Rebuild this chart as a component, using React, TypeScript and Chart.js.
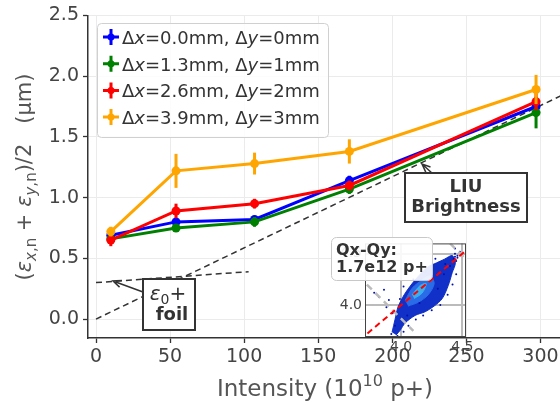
import React, { useEffect, useRef } from 'react';
import { Chart, registerables } from 'chart.js';
Chart.register(...registerables);

// ---------- data ----------
const intensity = [10, 54, 107, 171, 297];
const blueY = [0.69, 0.80, 0.82, 1.14, 1.75];
const blueErr = [0.03, 0.03, 0.03, 0.04, 0.04];
const greenY = [0.66, 0.75, 0.80, 1.07, 1.70];
const greenErr = [0.03, 0.03, 0.04, 0.04, 0.13];
const redY = [0.65, 0.89, 0.95, 1.10, 1.79];
const redErr = [0.05, 0.06, 0.04, 0.04, 0.07];
const orangeY = [0.72, 1.22, 1.28, 1.38, 1.89];
const orangeErr = [0.04, 0.14, 0.09, 0.10, 0.12];
const dxLabels = ['0.0', '1.3', '2.6', '3.9'];
const dyLabels = ['0', '1', '2', '3'];
const seriesColors = ['#0000ff', '#008000', '#ff0000', '#ffa500'];

const liuX = [0, 320];
const liuY = [0, 1.875];
const foilX = [0, 103];
const foilY = [0.30, 0.39];

const xTicks = [0, 50, 100, 150, 200, 250, 300];
const yTicks = [0, 0.5, 1.0, 1.5, 2.0, 2.5];

// inset (Qx-Qy) data
const insetTicks = [4.0, 4.5];
const cloudOuterX = [3.926, 3.951, 3.975, 4.025, 4.090, 4.156, 4.221, 4.287, 4.352, 4.418, 4.443, 4.418, 4.385, 4.336, 4.270, 4.197, 4.115, 4.033, 3.992, 3.959];
const cloudOuterY = [3.736, 3.864, 3.982, 4.100, 4.209, 4.300, 4.373, 4.409, 4.445, 4.482, 4.409, 4.318, 4.191, 4.064, 3.991, 3.936, 3.900, 3.827, 3.755, 3.709];
const cloudMidX = [4.033, 4.090, 4.172, 4.238, 4.270, 4.221, 4.139, 4.057];
const cloudMidY = [4.045, 4.164, 4.245, 4.282, 4.209, 4.100, 4.027, 3.991];
const cloudCoreX = [4.090, 4.156, 4.205, 4.172, 4.107];
const cloudCoreY = [4.100, 4.191, 4.209, 4.118, 4.064];
const sparseX = [3.78, 3.82, 3.86, 3.90, 3.88, 3.93, 3.95, 3.92, 3.97, 4.02, 4.06, 4.12, 4.18, 4.25, 4.32, 4.38, 4.42, 4.45, 4.40, 4.46, 4.48, 4.44, 4.20, 4.10, 4.02, 4.30, 4.35, 4.05, 4.15, 3.99, 4.28, 4.36, 4.43, 4.44, 4.45, 4.46, 4.44];
const sparseY = [4.12, 4.08, 4.15, 4.05, 3.98, 3.92, 3.80, 3.72, 3.70, 3.74, 3.80, 3.86, 3.90, 3.95, 4.00, 4.10, 4.20, 4.30, 4.38, 4.48, 4.52, 4.55, 4.32, 4.25, 4.18, 4.16, 4.30, 3.90, 4.02, 4.06, 4.45, 4.40, 4.45, 4.47, 4.43, 4.46, 4.50];
const diagX = [3.6, 4.7];
const diagY = [3.6, 4.7];
const anti1X = [3.72, 4.10];
const anti1Y = [4.20, 3.75];
const anti2X = [4.40, 4.56];
const anti2Y = [4.60, 4.41];

// ---------- helpers ----------
type Seg = { t: string; size: number; italic?: boolean; bold?: boolean; dy?: number };
const FAM = '"DejaVu Sans"';
const fontOf = (s: Seg) => `${s.italic ? 'italic ' : ''}${s.bold ? 'bold ' : ''}${s.size}px ${FAM}`;
function richWidth(ctx: CanvasRenderingContext2D, segs: Seg[]) {
  let w = 0;
  for (const s of segs) { ctx.font = fontOf(s); w += ctx.measureText(s.t).width; }
  return w;
}
function drawRich(ctx: CanvasRenderingContext2D, segs: Seg[], x: number, y: number, align: 'left' | 'center', color: string) {
  const w = richWidth(ctx, segs);
  let cx = align === 'center' ? x - w / 2 : x;
  ctx.save();
  ctx.fillStyle = color;
  ctx.textAlign = 'left';
  ctx.textBaseline = 'alphabetic';
  for (const s of segs) {
    ctx.font = fontOf(s);
    ctx.fillText(s.t, cx, y + (s.dy || 0));
    cx += ctx.measureText(s.t).width;
  }
  ctx.restore();
}
function arrow(ctx: CanvasRenderingContext2D, x1: number, y1: number, x2: number, y2: number) {
  ctx.save();
  ctx.strokeStyle = '#333';
  ctx.lineWidth = 1.5;
  ctx.beginPath();
  ctx.moveTo(x1, y1);
  ctx.lineTo(x2, y2);
  const a = Math.atan2(y1 - y2, x1 - x2);
  const L = 9;
  ctx.moveTo(x2 + L * Math.cos(a + 0.4), y2 + L * Math.sin(a + 0.4));
  ctx.lineTo(x2, y2);
  ctx.lineTo(x2 + L * Math.cos(a - 0.4), y2 + L * Math.sin(a - 0.4));
  ctx.stroke();
  ctx.restore();
}
function roundRect(ctx: CanvasRenderingContext2D, x: number, y: number, w: number, h: number, r: number) {
  ctx.beginPath();
  ctx.moveTo(x + r, y);
  ctx.lineTo(x + w - r, y);
  ctx.arcTo(x + w, y, x + w, y + r, r);
  ctx.lineTo(x + w, y + h - r);
  ctx.arcTo(x + w, y + h, x + w - r, y + h, r);
  ctx.lineTo(x + r, y + h);
  ctx.arcTo(x, y + h, x, y + h - r, r);
  ctx.lineTo(x, y + r);
  ctx.arcTo(x, y, x + r, y, r);
  ctx.closePath();
}
const pts = (xs: number[], ys: number[]) => xs.map((x, i) => ({ x, y: ys[i] }));

const mainPlugin = {
  id: 'decor',
  beforeDatasetDraw(chart: any, args: any) {
    const ds = chart.data.datasets[args.index];
    if (!ds.errs) return;
    const ctx = chart.ctx as CanvasRenderingContext2D;
    const ys = chart.scales.y;
    const xs = chart.scales.x;
    ctx.save();
    ctx.strokeStyle = ds.borderColor;
    ctx.lineWidth = 3;
    ds.data.forEach((p: any, i: number) => {
      const px = xs.getPixelForValue(p.x);
      ctx.beginPath();
      ctx.moveTo(px, ys.getPixelForValue(p.y - ds.errs[i]));
      ctx.lineTo(px, ys.getPixelForValue(p.y + ds.errs[i]));
      ctx.stroke();
    });
    ctx.restore();
  },
  afterDatasetsDraw(chart: any) {
    const ctx = chart.ctx as CanvasRenderingContext2D;
    // foil annotation
    arrow(ctx, 143, 292, 113, 281);
    ctx.save();
    ctx.fillStyle = '#fff';
    ctx.fillRect(143, 279, 52, 51);
    ctx.strokeStyle = '#333';
    ctx.lineWidth = 2;
    ctx.strokeRect(143, 279, 52, 51);
    ctx.restore();
    drawRich(ctx, [
      { t: 'ε', size: 20, italic: true },
      { t: '0', size: 14, dy: 4 },
      { t: '+', size: 20 },
    ], 168, 300, 'center', '#333');
    drawRich(ctx, [{ t: 'foil', size: 18, bold: true }], 172, 320, 'center', '#333');
    // LIU annotation
    arrow(ctx, 433, 174, 422, 164);
    ctx.save();
    ctx.fillStyle = '#fff';
    ctx.fillRect(405, 173, 122, 49);
    ctx.strokeStyle = '#333';
    ctx.lineWidth = 2;
    ctx.strokeRect(405, 173, 122, 49);
    ctx.restore();
    drawRich(ctx, [{ t: 'LIU', size: 18, bold: true }], 466, 192, 'center', '#333');
    drawRich(ctx, [{ t: 'Brightness', size: 18, bold: true }], 466, 212, 'center', '#333');
    // legend
    ctx.save();
    roundRect(ctx, 97.5, 23.5, 231, 114, 4);
    ctx.fillStyle = 'rgba(255,255,255,0.85)';
    ctx.fill();
    ctx.strokeStyle = '#d0d0d0';
    ctx.lineWidth = 1;
    ctx.stroke();
    ctx.restore();
    for (let i = 0; i < 4; i++) {
      const cy = 37 + i * 26.7;
      const c = seriesColors[i];
      ctx.save();
      ctx.strokeStyle = c;
      ctx.lineWidth = 3;
      ctx.beginPath();
      ctx.moveTo(103, cy); ctx.lineTo(119, cy);
      ctx.moveTo(111, cy - 8); ctx.lineTo(111, cy + 8);
      ctx.stroke();
      ctx.fillStyle = c;
      ctx.beginPath(); ctx.arc(111, cy, 3.5, 0, Math.PI * 2); ctx.fill();
      ctx.restore();
      drawRich(ctx, [
        { t: 'Δ', size: 18 }, { t: 'x', size: 18, italic: true },
        { t: `=${dxLabels[i]}mm, `, size: 18 },
        { t: 'Δ', size: 18 }, { t: 'y', size: 18, italic: true },
        { t: `=${dyLabels[i]}mm`, size: 18 },
      ], 122, cy + 7, 'left', '#333');
    }
  },
  afterDraw(chart: any) {
    const ctx = chart.ctx as CanvasRenderingContext2D;
    drawRich(ctx, [
      { t: 'Intensity (10', size: 23 },
      { t: '10', size: 16, dy: -10 },
      { t: ' p+)', size: 23 },
    ], 325, 396, 'center', '#555');
    ctx.save();
    ctx.translate(31, 177);
    ctx.rotate(-Math.PI / 2);
    drawRich(ctx, [
      { t: '(', size: 21 },
      { t: 'ε', size: 21, italic: true },
      { t: 'x', size: 15, italic: true, dy: 5 },
      { t: ',n', size: 15, dy: 5 },
      { t: ' + ', size: 21 },
      { t: 'ε', size: 21, italic: true },
      { t: 'y', size: 15, italic: true, dy: 5 },
      { t: ',n', size: 15, dy: 5 },
      { t: ')/2   (μm)', size: 21 },
    ], 0, 0, 'center', '#555');
    ctx.restore();
  },
};

const insetPlugin = {
  id: 'insetDecor',
  beforeDraw(chart: any) {
    const a = chart.chartArea;
    const ctx = chart.ctx as CanvasRenderingContext2D;
    ctx.save();
    ctx.fillStyle = '#fff';
    ctx.fillRect(a.left, a.top, a.right - a.left, a.bottom - a.top);
    ctx.restore();
  },
  afterDraw(chart: any) {
    const a = chart.chartArea;
    const ctx = chart.ctx as CanvasRenderingContext2D;
    ctx.save();
    ctx.strokeStyle = '#444';
    ctx.lineWidth = 1;
    ctx.strokeRect(a.left + 0.5, a.top + 0.5, a.right - a.left - 1, a.bottom - a.top - 1);
    roundRect(ctx, 6.5, 5.5, 101, 43, 5);
    ctx.fillStyle = 'rgba(255,255,255,0.9)';
    ctx.fill();
    ctx.strokeStyle = '#c8c8c8';
    ctx.stroke();
    ctx.restore();
    drawRich(ctx, [{ t: 'Qx-Qy:', size: 16, bold: true }], 11, 23, 'left', '#333');
    drawRich(ctx, [{ t: '1.7e12 p+', size: 16, bold: true }], 11, 40, 'left', '#333');
  },
};

export default function App() {
  const mainRef = useRef<HTMLCanvasElement>(null);
  const insetRef = useRef<HTMLCanvasElement>(null);
  useEffect(() => {
    Chart.defaults.font.family = 'DejaVu Sans';
    const mk = (ys: number[], errs: number[], i: number, order: number) => ({
      data: pts(intensity, ys),
      errs,
      showLine: true,
      borderColor: seriesColors[i],
      backgroundColor: seriesColors[i],
      pointBackgroundColor: seriesColors[i],
      pointBorderWidth: 0,
      pointRadius: 4.5,
      borderWidth: 3,
      order,
    });
    const main = new Chart(mainRef.current!, {
      type: 'scatter',
      data: {
        datasets: [
          { data: pts(liuX, liuY), showLine: true, borderColor: '#333', borderWidth: 1.5, borderDash: [6, 4], pointRadius: 0, order: 10 } as any,
          { data: pts(foilX, foilY), showLine: true, borderColor: '#333', borderWidth: 1.5, borderDash: [6, 4], pointRadius: 0, order: 9 } as any,
          mk(blueY, blueErr, 0, 4),
          mk(greenY, greenErr, 1, 3),
          mk(redY, redErr, 2, 2),
          mk(orangeY, orangeErr, 3, 1),
        ],
      },
      options: {
        animation: false,
        responsive: false,
        devicePixelRatio: 1,
        events: [],
        layout: { padding: { top: 14, right: 0, left: 0, bottom: 0 } },
        plugins: { legend: { display: false }, tooltip: { enabled: false } },
        scales: {
          x: {
            type: 'linear', min: -5.4, max: 313.5,
            afterBuildTicks: (s: any) => { s.ticks = xTicks.map((v) => ({ value: v })); },
            afterFit: (s: any) => { s.height = 67; },
            ticks: { callback: (v: any) => String(v), font: { size: 19 }, color: '#444', padding: 3, maxRotation: 0 },
            grid: { color: '#ebebeb', lineWidth: 1, tickLength: 5, tickColor: '#333', tickWidth: 1.3 },
            border: { color: '#333', width: 1.5 },
          },
          y: {
            type: 'linear', min: -0.156, max: 2.5,
            afterBuildTicks: (s: any) => { s.ticks = yTicks.map((v) => ({ value: v })); },
            afterFit: (s: any) => { s.width = 88; },
            ticks: { callback: (v: any) => Number(v).toFixed(1), font: { size: 19 }, color: '#444', padding: 4 },
            grid: { color: '#ebebeb', lineWidth: 1, tickLength: 5, tickColor: '#333', tickWidth: 1.3 },
            border: { color: '#333', width: 1.5 },
          },
        },
      } as any,
      plugins: [mainPlugin],
    });

    const line = (xs: number[], ys: number[], color: string, w: number, dash: number[], order: number) => ({
      data: pts(xs, ys), showLine: true, borderColor: color, borderWidth: w, borderDash: dash, pointRadius: 0, order,
    });
    const poly = (xs: number[], ys: number[], color: string, order: number) => ({
      data: pts(xs, ys), showLine: true, fill: 'shape', backgroundColor: color, borderColor: color, borderWidth: 1, pointRadius: 0, tension: 0.3, order,
    });
    const inset = new Chart(insetRef.current!, {
      type: 'scatter',
      data: {
        datasets: [
          poly(cloudOuterX, cloudOuterY, '#1030c8', 10),
          poly(cloudMidX, cloudMidY, '#2a6ce8', 9),
          poly(cloudCoreX, cloudCoreY, '#38b0f0', 8),
          { data: pts(sparseX, sparseY), pointRadius: 1, pointBackgroundColor: '#0010b0', pointBorderWidth: 0, order: 7 },
          line(anti1X, anti1Y, '#bbbbbb', 2.5, [7, 5], 6),
          line(anti2X, anti2Y, '#bbbbbb', 2.5, [7, 5], 5),
          line(diagX, diagY, '#ff0000', 2, [6, 4], 4),
        ] as any,
      },
      options: {
        animation: false,
        responsive: false,
        devicePixelRatio: 1,
        events: [],
        layout: { padding: { top: 5, right: 24, left: 0, bottom: 0 } },
        plugins: { legend: { display: false }, tooltip: { enabled: false } },
        scales: {
          x: {
            type: 'linear', min: 3.705, max: 4.53,
            afterBuildTicks: (s: any) => { s.ticks = insetTicks.map((v) => ({ value: v })); },
            afterFit: (s: any) => { s.height = 18; },
            ticks: { callback: (v: any) => Number(v).toFixed(1), font: { size: 14 }, color: '#444', padding: 2, maxRotation: 0 },
            grid: { color: '#bbbbbb', lineWidth: 2, drawTicks: false },
            border: { display: false },
          },
          y: {
            type: 'linear', min: 3.69, max: 4.60,
            afterBuildTicks: (s: any) => { s.ticks = insetTicks.map((v) => ({ value: v })); },
            afterFit: (s: any) => { s.width = 40; },
            ticks: { callback: (v: any) => Number(v).toFixed(1), font: { size: 14 }, color: '#444', padding: 3 },
            grid: { color: '#bbbbbb', lineWidth: 2, drawTicks: false },
            border: { display: false },
          },
        },
      } as any,
      plugins: [insetPlugin],
    });
    return () => { main.destroy(); inset.destroy(); };
  }, []);
  return (
    <div style={{ position: 'fixed', left: 0, top: 0, width: 560, height: 405, background: '#fff', overflow: 'hidden' }}>
      <canvas ref={mainRef} width={565} height={405} style={{ position: 'absolute', left: 0, top: 0 }} />
      <canvas ref={insetRef} width={165} height={123} style={{ position: 'absolute', left: 325, top: 232 }} />
    </div>
  );
}
